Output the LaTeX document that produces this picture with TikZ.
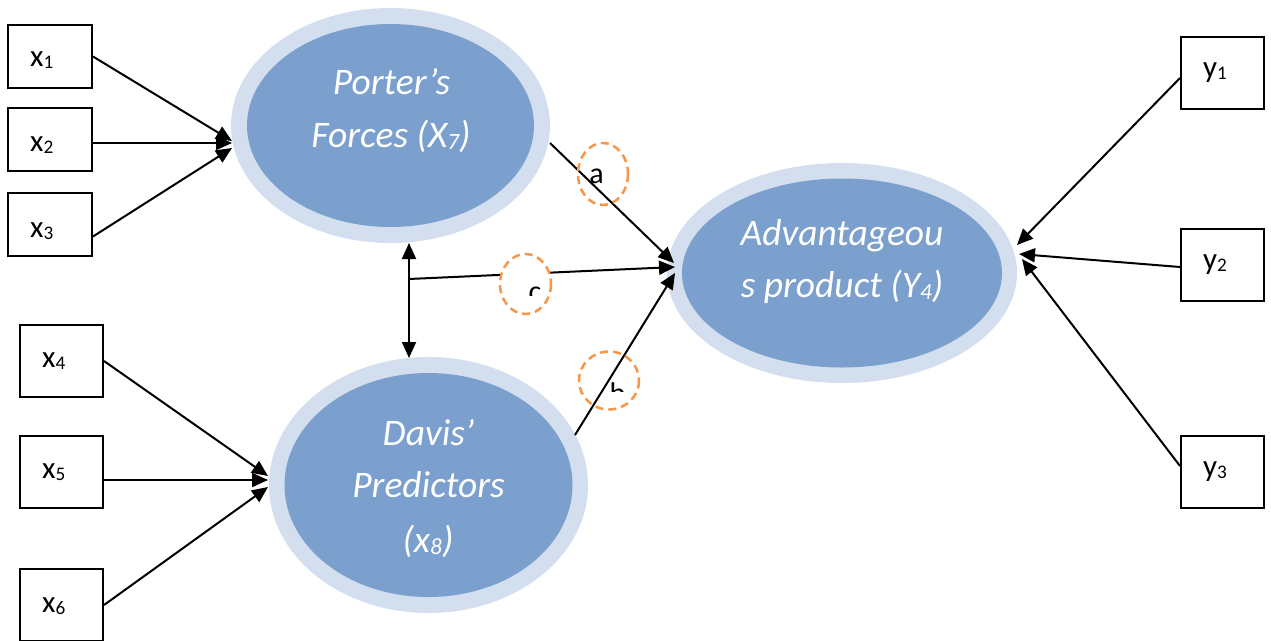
\documentclass[tikz,border=0pt]{standalone}
\usepackage{fontspec}
\setmainfont{Carlito}
\usetikzlibrary{arrows.meta,shapes.geometric,calc}
\definecolor{ring}{RGB}{211,223,238}
\definecolor{core}{RGB}{123,160,205}
\definecolor{hint}{RGB}{247,150,70}
% small, slightly lowered index digit
\newcommand\lowidx[1]{\raisebox{-0.07em}{\scalebox{0.62}{#1}}}

\begin{document}
\begin{tikzpicture}[x=1pt,y=-1pt,
  indbox/.style={draw=black, line width=2pt, fill=white, rectangle, inner sep=0pt},
  smallbox/.style={indbox, minimum width=84pt, minimum height=63pt},
  tallbox/.style={indbox, minimum width=83pt, minimum height=72pt},
  boxtext/.style={anchor=base west, inner sep=0pt, font=\fontsize{31}{36}\selectfont},
  halo/.style={ellipse, fill=ring, inner sep=0pt, outer sep=0pt},
  body/.style={ellipse, fill=core, inner sep=0pt, outer sep=0pt},
  lattext/.style={anchor=base, inner sep=0pt, text=white, font=\fontsize{37.5}{44}\selectfont\itshape},
  link/.style={draw=black, line width=2pt, -{Triangle[length=16pt,width=14pt]}},
  tag/.style={draw=hint, line width=2.5pt, dash pattern=on 8pt off 5pt},
  tagtext/.style={anchor=base, inner sep=0pt, font=\fontsize{30}{36}\selectfont}
]
\useasboundingbox (0,0) rectangle (1271,640);

% latent constructs: light halo with a darker core
\node[halo, minimum width=319pt, minimum height=235pt] (porter) at (390.5,125.5) {};
\node[body, minimum width=287pt, minimum height=203pt] (portercore) at (390.5,125.5) {};
\node[halo, minimum width=319pt, minimum height=256pt] (davis) at (428.5,485) {};
\node[body, minimum width=288pt, minimum height=224pt] (daviscore) at (428.5,485) {};
\node[halo, minimum width=350pt, minimum height=220pt] (adv) at (842,273) {};
\node[body, minimum width=320pt, minimum height=189pt] (advcore) at (842,273) {};

\node[lattext] (pt1) at (391.5,94) {Porter’s};
\node[lattext] (pt2) at (391,147) {Forces (X\lowidx{7})};
\node[lattext] (dt1) at (428.5,445) {Davis’};
\node[lattext] (dt2) at (428.5,497) {Predictors};
\node[lattext] (dt3) at (428,552) {(x\lowidx{8})};
\node[lattext] (at1) at (842,245) {Advantageou};
\node[lattext] (at2) at (842,297) {s product (Y\lowidx{4})};

% indicator boxes
\node[smallbox] (x1) at (50,56.5) {};
\node[smallbox] (x2) at (50,139) {};
\node[smallbox] (x3) at (50,224.5) {};
\node[tallbox] (x4) at (61.5,361) {};
\node[tallbox] (x5) at (61.5,472) {};
\node[tallbox] (x6) at (61.5,605) {};
\node[tallbox] (y1) at (1222.5,73) {};
\node[tallbox] (y2) at (1222.5,265) {};
\node[tallbox] (y3) at (1222.5,472) {};

\node[boxtext] (x1t) at (30,66) {x\lowidx{1}};
\node[boxtext] (x2t) at (30,151) {x\lowidx{2}};
\node[boxtext] (x3t) at (30,237) {x\lowidx{3}};
\node[boxtext] (x4t) at (42,367) {x\lowidx{4}};
\node[boxtext] (x5t) at (42,478) {x\lowidx{5}};
\node[boxtext] (x6t) at (42,612) {x\lowidx{6}};
\node[boxtext] (y1t) at (1203,77) {y\lowidx{1}};
\node[boxtext] (y2t) at (1203,269) {y\lowidx{2}};
\node[boxtext] (y3t) at (1203,476) {y\lowidx{3}};

% arrow end points on the halos
\coordinate (pin1) at (232,141);
\coordinate (pin2) at (232,143);
\coordinate (pin3) at (232,148);
\coordinate (din4) at (268,476);
\coordinate (din5) at (268,480);
\coordinate (din6) at (268,487);
\coordinate (ain1) at (1017,245);
\coordinate (ain2) at (1019,254);
\coordinate (ain3) at (1022,259);
\coordinate (aina) at (674,263);
\coordinate (ainc) at (675,267);
\coordinate (ainb) at (675,273);
\coordinate (pout) at (550,143);
\coordinate (dout) at (575,435);
\coordinate (ptop) at (409,243);
\coordinate (dtop) at (409,358);
\coordinate (cj) at (409,279);

% measurement paths
\draw[link] (x1.east) -- (pin1);
\draw[link] ($(x2.east)+(0,4)$) -- (pin2);
\draw[link] ($(x3.east)+(0,12)$) -- (pin3);
\draw[link] (x4.east) -- (din4);
\draw[link] ($(x5.east)+(0,8)$) -- (din5);
\draw[link] (x6.east) -- (din6);
\draw[link] ($(y1.west)+(0,5)$) -- (ain1);
\draw[link] ($(y2.west)+(0,2)$) -- (ain2);
\draw[link] ($(y3.west)+(0,-6)$) -- (ain3);

% structural paths
\draw[link] (pout) -- (aina);
\draw[link] (dout) -- (ainb);
\draw[link, {Triangle[length=16pt,width=14pt]}-{Triangle[length=16pt,width=14pt]}] (ptop) -- (dtop);
\draw[link] (cj) -- (ainc);

% path labels in dashed circles
\draw[tag] (603,174) ellipse [x radius=25, y radius=31];
\node[tagtext] (la) at (596.5,183) {a};
\draw[tag, fill=white] (525.5,284) ellipse [x radius=25.5, y radius=30];
\begin{scope}
  \clip (500,250) rectangle (560,295);
  \node[tagtext] (lc) at (535,301) {c};
\end{scope}
\draw[tag] (609,380.5) ellipse [x radius=30, y radius=29];
\begin{scope}
  \clip (580,350) rectangle (640,391);
  \node[tagtext] (lb) at (617.5,403) {b};
\end{scope}
\end{tikzpicture}
\end{document}
